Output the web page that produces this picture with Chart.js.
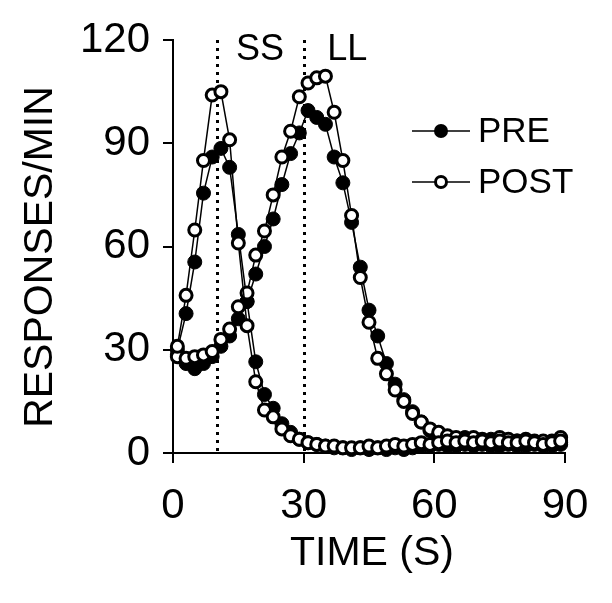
<!DOCTYPE html>
<html><head><meta charset="utf-8">
<script src="https://cdn.jsdelivr.net/npm/chart.js@4/dist/chart.umd.min.js"></script>
<style>html,body{margin:0;padding:0;background:#fff}</style>
</head><body>
<canvas id="c" width="612" height="603"></canvas>
<script>
const times = [1,3,5,7,9,11,13,15,17,19,21,23,25,27,29,31,33,35,37,39,41,43,45,47,49,51,53,55,57,59,61,63,65,67,69,71,73,75,77,79,81,83,85,87,89];
const preSS = [30,40.5,55.5,75.5,86,88.5,83,63.5,44,26.5,17,13,8.5,6,4,3,2.5,2,1.5,1.5,1,1.5,1,1.5,1,1.5,1,1.5,2,2,2.5,2,2,2.5,2,2.5,2,2,2.5,2,2,2.5,2,2,2.5];
const postSS = [31,45.8,64.8,85,104,105,91,61,37,20.7,12.5,10.5,7,5,4,3,2.5,2,2,1.5,1.5,1.5,2,1.5,2,2.5,2,2.5,3,2.5,3,3.5,3,3.5,3,3.5,3,3.5,3,3,3.5,3,2.5,3,3.5];
const preLL = [28.5,26,24.5,26,28,31,34,39,44,52,60,68,78,87,93,99.5,97.5,95.5,86,78.5,67,54,41.5,34,26,20,15.5,12,9,6.5,5,4.5,4,4.5,4,3.5,4,3.5,3,3.5,3,3,2.5,3,3];
const postLL = [28,27.5,28,28.5,29.5,33,36,42.5,46.5,57.5,64.5,75,86,93.5,103.5,107.5,109,109.5,99,85,69,51,38,27.5,23,18.3,15,11.5,9,7,6,5,4.5,4,4.5,4,3.5,4.5,4,3.5,4,3.5,3.5,3.5,4.5];
const xTicks = [0,30,60,90];
const yTicks = [0,30,60,90,120];
const markerLines = [10,30];
const markerLabels = ['SS','LL'];
const markerLabelX = [20,40];
const legendLabels = ['PRE','POST'];
const xTitle = 'TIME (S)';
const yTitle = 'RESPONSES/MIN';

const FONT = '"Liberation Sans", Arial, Helvetica, sans-serif';
const toXY = arr => arr.map((v,i)=>({x:times[i], y:v}));
function ds(label, arr, filled){
  return {label, data: toXY(arr), borderColor:'#000', borderWidth:1.5,
    pointRadius: filled?7:6, pointBorderWidth: filled?1:3,
    pointBackgroundColor: filled?'#000':'#fff', pointBorderColor:'#000',
    pointHoverRadius: filled?7:6, tension:0, fill:false, clip:false};
}

const decor = {
  id:'decor',
  beforeDatasetsDraw(chart){
    const {ctx, chartArea, scales:{x,y}} = chart;
    ctx.save();
    ctx.strokeStyle='#000'; ctx.lineWidth=3; ctx.setLineDash([3,5]);
    markerLines.forEach(v=>{
      const px = Math.round(x.getPixelForValue(v))+0.5;
      ctx.beginPath(); ctx.moveTo(px, chartArea.top); ctx.lineTo(px, chartArea.bottom); ctx.stroke();
    });
    ctx.restore();
  },
  afterDraw(chart){
    const {ctx, chartArea, scales:{x,y}} = chart;
    ctx.save();
    ctx.fillStyle='#000';
    ctx.font = '36px '+FONT; ctx.textAlign='center'; ctx.textBaseline='middle';
    markerLabels.forEach((t,i)=>ctx.fillText(t, x.getPixelForValue(markerLabelX[i]), 50));
    ctx.font = '41px '+FONT;
    ctx.fillText(xTitle, (chartArea.left+chartArea.right)/2 + 3, 554);
    ctx.save(); ctx.translate(41, 257); ctx.rotate(-Math.PI/2); ctx.fillText(yTitle, 0, 0); ctx.restore();
    const rows = [131,182];
    legendLabels.forEach((t,i)=>{
      const yy = rows[i];
      ctx.strokeStyle='#000'; ctx.lineWidth=1.5; ctx.setLineDash([]);
      ctx.beginPath(); ctx.moveTo(412,yy); ctx.lineTo(470,yy); ctx.stroke();
      ctx.beginPath();
      if(i===0){ ctx.arc(441,yy,7,0,Math.PI*2); ctx.fillStyle='#000'; ctx.fill(); }
      else { ctx.arc(441,yy,5.5,0,Math.PI*2); ctx.fillStyle='#fff'; ctx.fill(); ctx.lineWidth=3; ctx.stroke(); }
      ctx.fillStyle='#000'; ctx.font='35px '+FONT; ctx.textAlign='left'; ctx.textBaseline='middle';
      ctx.fillText(t, 478, yy+1);
    });
    ctx.restore();
  }
};

new Chart(document.getElementById('c'), {
  type:'line',
  data:{ datasets:[ ds('POST SS', postSS, false), ds('POST LL', postLL, false), ds('PRE SS', preSS, true), ds('PRE LL', preLL, true) ] },
  options:{
    responsive:false, animation:false, devicePixelRatio:1,
    layout:{padding:{left:0,right:47,top:40,bottom:0}},
    plugins:{legend:{display:false}, tooltip:{enabled:false}},
    scales:{
      x:{type:'linear', min:0, max:90,
        afterBuildTicks: s => { s.ticks = xTicks.map(v=>({value:v})); },
        afterFit: s => { s.height = 150; },
        ticks:{color:'#000', font:{family:FONT, size:42}, padding:18, maxRotation:0},
        grid:{drawOnChartArea:false, drawTicks:true, tickLength:10, color:'#000', lineWidth:2},
        border:{display:true, color:'#000', width:2}},
      y:{min:0, max:120,
        afterBuildTicks: s => { s.ticks = yTicks.map(v=>({value:v})); },
        afterFit: s => { s.width = 173; },
        ticks:{color:'#000', font:{family:FONT, size:42}, padding:13},
        grid:{drawOnChartArea:false, drawTicks:true, tickLength:10, color:'#000', lineWidth:2},
        border:{display:true, color:'#000', width:2}}
    }
  },
  plugins:[decor]
});
</script>
</body></html>
